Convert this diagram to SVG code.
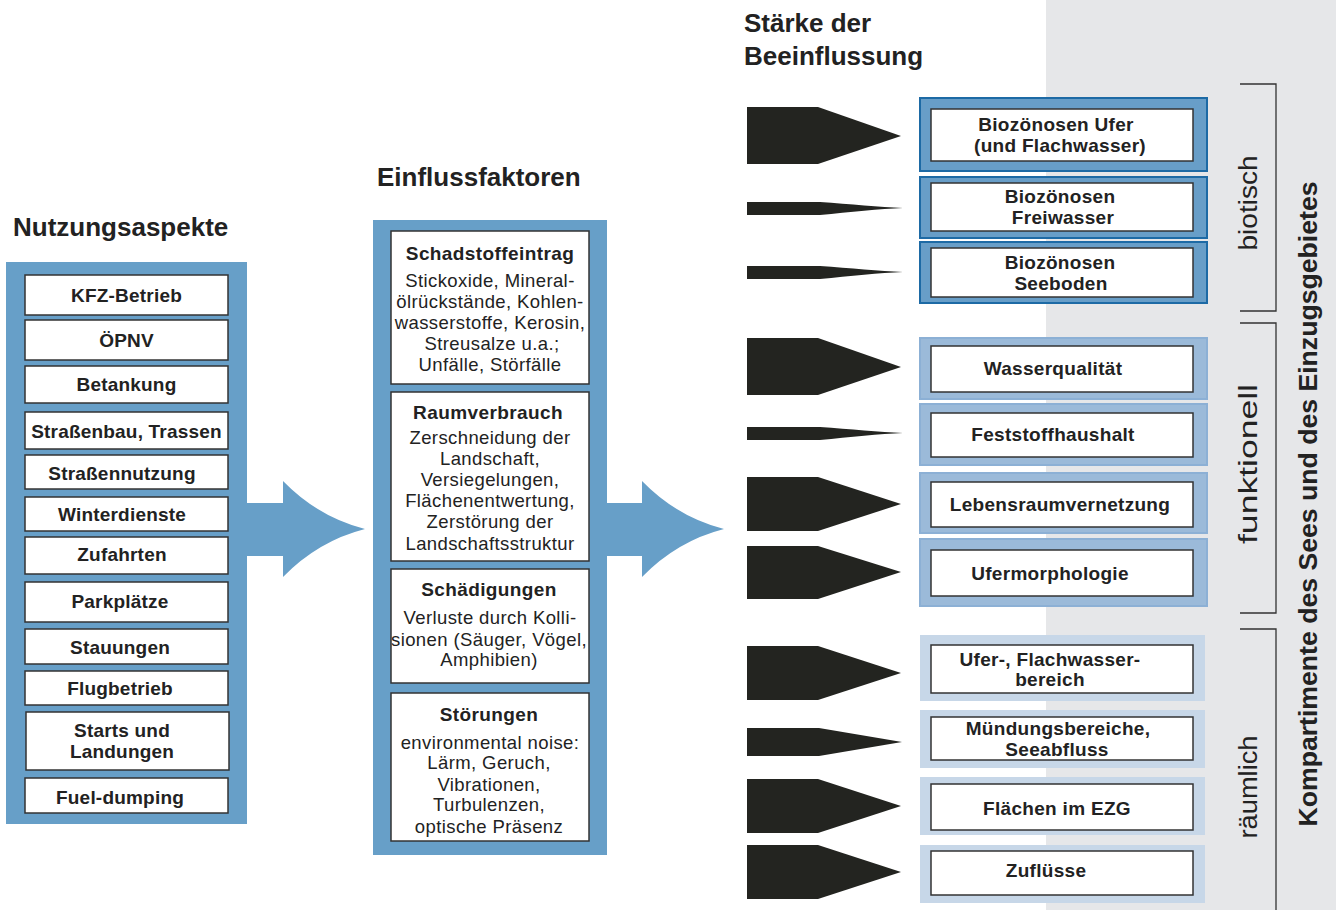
<svg xmlns="http://www.w3.org/2000/svg" width="1336" height="910" viewBox="0 0 1336 910">
<style>
text{font-family:"Liberation Sans",Arial,Helvetica,sans-serif;fill:#222;}
.hdr{font-size:26px;font-weight:bold;}
.lbl{font-size:19px;font-weight:bold;text-anchor:middle;letter-spacing:0.2px;}
.ttl{font-size:19px;font-weight:bold;text-anchor:middle;letter-spacing:0.4px;}
.body{font-size:18.5px;text-anchor:middle;letter-spacing:0.4px;}
.rl{font-size:19px;font-weight:bold;text-anchor:middle;letter-spacing:0.3px;}
.side{font-size:26px;text-anchor:middle;}
.big{font-size:26px;font-weight:bold;text-anchor:middle;}
.panel{fill:#679fc8;}
.box{fill:#fff;stroke:#333;stroke-width:1.5;}
.bio{fill:#689ec8;stroke:#1d6aa5;stroke-width:2;}
.fun{fill:#9bbad9;stroke:#8cb0d5;stroke-width:2;}
.rau{fill:#c7d7e8;}
.blk{fill:#232420;}
.brk{fill:none;stroke:#333;stroke-width:1.3;}
</style>
<rect x="1046" y="0" width="290" height="910" fill="#e6e7e9"/>

<text class="hdr" x="13" y="236">Nutzungsaspekte</text>
<text class="hdr" x="377" y="186">Einflussfaktoren</text>
<text class="hdr" x="744" y="32">Stärke der</text>
<text class="hdr" x="744" y="65">Beeinflussung</text>

<g id="connectors">
<path class="panel" d="M245,503 H283 V481 Q318,517 365,529 Q318,541 283,577 V556 H245 Z"/>
<path class="panel" d="M605,503 H642 V481 Q677,517 724,529 Q677,541 642,577 V556 H605 Z"/>
<path class="blk" d="M747,107 H818 L901,136 L818,164 H747 Z"/>
<path class="blk" d="M747,202 H820 C850,204 880,207 903,208 C880,209 850,212 820,215 H747 Z"/>
<path class="blk" d="M747,266 H820 C850,268 880,271 903,272 C880,273 850,276 820,279 H747 Z"/>
<path class="blk" d="M747,338 H818 L901,367 L818,395 H747 Z"/>
<path class="blk" d="M747,427 H820 C850,429 880,432 903,433 C880,434 850,437 820,440 H747 Z"/>
<path class="blk" d="M747,477 H818 L901,504 L818,531 H747 Z"/>
<path class="blk" d="M747,546 H818 L901,572 L818,599 H747 Z"/>
<path class="blk" d="M747,646 H818 L901,673 L818,700 H747 Z"/>
<path class="blk" d="M747,728 H819 L902,742 L819,756 H747 Z"/>
<path class="blk" d="M747,779 H818 L901,806 L818,833 H747 Z"/>
<path class="blk" d="M747,845 H818 L901,872 L818,899 H747 Z"/>
</g>

<g id="nutzungsaspekte">
<rect class="panel" x="6" y="262" width="241" height="562"/>
<g id="n-kfz"><rect class="box" x="25" y="275" width="203" height="40"/><text class="lbl" x="126.5" y="302">KFZ-Betrieb</text></g>
<g id="n-oepnv"><rect class="box" x="25" y="320" width="203" height="40"/><text class="lbl" x="126.5" y="347">ÖPNV</text></g>
<g id="n-betankung"><rect class="box" x="25" y="366" width="203" height="37"/><text class="lbl" x="126.5" y="391">Betankung</text></g>
<g id="n-strassenbau"><rect class="box" x="25" y="412" width="203" height="37"/><text class="lbl" x="126.5" y="438">Straßenbau, Trassen</text></g>
<g id="n-strassennutzung"><rect class="box" x="25" y="455" width="203" height="34"/><text class="lbl" x="122" y="480">Straßennutzung</text></g>
<g id="n-winter"><rect class="box" x="25" y="497" width="203" height="34"/><text class="lbl" x="122" y="521">Winterdienste</text></g>
<g id="n-zufahrten"><rect class="box" x="25" y="537" width="203" height="37"/><text class="lbl" x="122" y="561">Zufahrten</text></g>
<g id="n-park"><rect class="box" x="25" y="582" width="203" height="40"/><text class="lbl" x="120" y="608">Parkplätze</text></g>
<g id="n-stau"><rect class="box" x="25" y="629" width="203" height="35"/><text class="lbl" x="120" y="654">Stauungen</text></g>
<g id="n-flug"><rect class="box" x="25" y="671" width="203" height="34"/><text class="lbl" x="120" y="695">Flugbetrieb</text></g>
<g id="n-starts"><rect class="box" x="26" y="712" width="203" height="58"/><text class="lbl" x="122" y="737">Starts und</text><text class="lbl" x="122" y="758">Landungen</text></g>
<g id="n-fuel"><rect class="box" x="25" y="778" width="203" height="35"/><text class="lbl" x="120" y="804">Fuel-dumping</text></g>
</g>

<g id="einflussfaktoren">
<rect class="panel" x="373" y="220" width="234" height="635"/>
<g id="e-schadstoff"><rect class="box" x="391" y="231" width="198" height="153"/>
<text class="ttl" x="490" y="260">Schadstoffeintrag</text>
<text class="body" x="490" y="287">Stickoxide, Mineral-</text>
<text class="body" x="490" y="308">ölrückstände, Kohlen-</text>
<text class="body" x="490" y="329">wasserstoffe, Kerosin,</text>
<text class="body" x="492" y="350">Streusalze u.a.;</text>
<text class="body" x="490" y="371">Unfälle, Störfälle</text></g>
<g id="e-raum"><rect class="box" x="391" y="392" width="198" height="169"/>
<text class="ttl" x="488" y="419">Raumverbrauch</text>
<text class="body" x="490" y="444">Zerschneidung der</text>
<text class="body" x="490" y="465">Landschaft,</text>
<text class="body" x="490" y="486">Versiegelungen,</text>
<text class="body" x="490" y="507">Flächenentwertung,</text>
<text class="body" x="490" y="528">Zerstörung der</text>
<text class="body" x="490" y="550">Landschaftsstruktur</text></g>
<g id="e-schaed"><rect class="box" x="391" y="569" width="198" height="114"/>
<text class="ttl" x="489" y="596">Schädigungen</text>
<text class="body" x="490" y="624">Verluste durch Kolli-</text>
<text class="body" x="489" y="646">sionen (Säuger, Vögel,</text>
<text class="body" x="489" y="666">Amphibien)</text></g>
<g id="e-stoer"><rect class="box" x="391" y="693" width="198" height="148"/>
<text class="ttl" x="489" y="721">Störungen</text>
<text class="body" x="490" y="749">environmental noise:</text>
<text class="body" x="489" y="769">Lärm, Geruch,</text>
<text class="body" x="489" y="791">Vibrationen,</text>
<text class="body" x="489" y="811">Turbulenzen,</text>
<text class="body" x="489" y="833">optische Präsenz</text></g>
</g>

<g id="kompartimente">
<g id="k-bio1"><rect class="bio" x="920" y="98" width="287" height="73"/><rect class="box" x="931" y="109" width="262" height="52"/>
<text class="rl" x="1056" y="131">Biozönosen Ufer</text><text class="rl" x="1060" y="152">(und Flachwasser)</text></g>
<g id="k-bio2"><rect class="bio" x="920" y="177" width="287" height="61"/><rect class="box" x="931" y="183" width="262" height="48"/>
<text class="rl" x="1060" y="203">Biozönosen</text><text class="rl" x="1063" y="224">Freiwasser</text></g>
<g id="k-bio3"><rect class="bio" x="920" y="242" width="287" height="61"/><rect class="box" x="931" y="248" width="262" height="49"/>
<text class="rl" x="1060" y="269">Biozönosen</text><text class="rl" x="1061" y="290">Seeboden</text></g>
<g id="k-wasser"><rect class="fun" x="920" y="338" width="287" height="61"/><rect class="box" x="931" y="346" width="262" height="46"/>
<text class="rl" x="1053" y="375">Wasserqualität</text></g>
<g id="k-fest"><rect class="fun" x="920" y="404" width="287" height="61"/><rect class="box" x="931" y="413" width="262" height="44"/>
<text class="rl" x="1053" y="441">Feststoffhaushalt</text></g>
<g id="k-leben"><rect class="fun" x="920" y="473" width="287" height="60"/><rect class="box" x="931" y="482" width="262" height="45"/>
<text class="rl" x="1060" y="511">Lebensraumvernetzung</text></g>
<g id="k-ufer"><rect class="fun" x="920" y="539" width="287" height="67"/><rect class="box" x="931" y="550" width="262" height="46"/>
<text class="rl" x="1050" y="580">Ufermorphologie</text></g>
<g id="k-flach"><rect class="rau" x="920" y="635" width="285" height="66"/><rect class="box" x="931" y="645" width="262" height="48"/>
<text class="rl" x="1050" y="666">Ufer-, Flachwasser-</text><text class="rl" x="1050" y="686">bereich</text></g>
<g id="k-muend"><rect class="rau" x="920" y="710" width="285" height="58"/><rect class="box" x="931" y="717" width="262" height="43"/>
<text class="rl" x="1058" y="735">Mündungsbereiche,</text><text class="rl" x="1057" y="756">Seeabfluss</text></g>
<g id="k-flaechen"><rect class="rau" x="920" y="777" width="285" height="58"/><rect class="box" x="931" y="784" width="262" height="46"/>
<text class="rl" x="1057" y="815">Flächen im EZG</text></g>
<g id="k-zufl"><rect class="rau" x="920" y="845" width="285" height="58"/><rect class="box" x="931" y="851" width="262" height="44"/>
<text class="rl" x="1046" y="877">Zuflüsse</text></g>
</g>

<g id="gruppen">
<path class="brk" d="M1240,84 H1276 V311 H1240"/>
<path class="brk" d="M1240,323 H1276 V613 H1240"/>
<path class="brk" d="M1240,629 H1276 V910"/>
<text class="side" transform="translate(1257,203) rotate(-90)" textLength="95" lengthAdjust="spacingAndGlyphs">biotisch</text>
<text class="side" transform="translate(1257,464) rotate(-90)" textLength="160" lengthAdjust="spacingAndGlyphs">funktionell</text>
<text class="side" transform="translate(1257,787) rotate(-90)" textLength="103" lengthAdjust="spacingAndGlyphs">räumlich</text>
<text class="big" transform="translate(1317,504) rotate(-90)" textLength="645" lengthAdjust="spacingAndGlyphs">Kompartimente des Sees und des Einzugsgebietes</text>
</g>
</svg>
